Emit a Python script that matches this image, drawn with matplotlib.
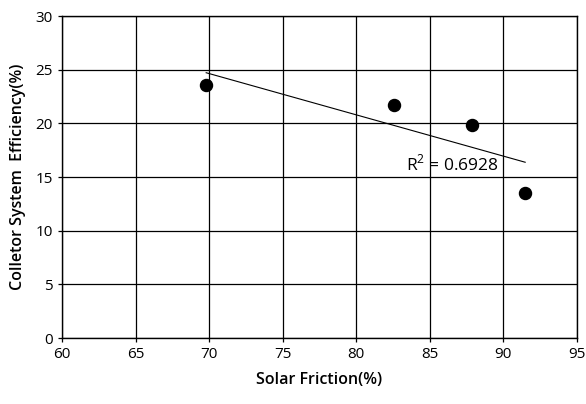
import numpy as np
import matplotlib.pyplot as plt

# data
solar_fraction = [69.8, 82.6, 87.9, 91.5]
efficiency = [23.6, 21.7, 19.9, 13.5]
r2_label = "R$^2$ = 0.6928"

plt.rcParams['font.family'] = ['Open Sans', 'DejaVu Sans']
plt.rcParams['mathtext.fontset'] = 'custom'
plt.rcParams['mathtext.rm'] = 'Open Sans'

fig = plt.figure(figsize=(5.86, 4.04), dpi=100)
ax = fig.add_axes([0.106, 0.163, 0.878, 0.797])

ax.scatter(solar_fraction, efficiency, s=75, color='black', zorder=3)

# linear trendline
coef = np.polyfit(solar_fraction, efficiency, 1)
xs = np.array([min(solar_fraction), max(solar_fraction)])
ax.plot(xs, np.polyval(coef, xs), color='black', linewidth=0.8, zorder=2)
ax.text(83.4, 16.2, r2_label, fontsize=12.5, va='center', ha='left')

ax.set_xlim(60, 95)
ax.set_ylim(0, 30)
ax.set_xticks(np.arange(60, 96, 5))
ax.set_yticks(np.arange(0, 31, 5))
ax.grid(True, color='black', linewidth=0.9)
ax.set_axisbelow(True)
for s in ax.spines.values():
    s.set_linewidth(1.0)
ax.tick_params(direction='out', length=3, width=0.9, labelsize=11)

ax.set_xlabel('Solar Friction(%)', fontsize=11.5, fontweight='semibold', labelpad=7)
ax.set_ylabel('Colletor System  Efficiency(%)', fontsize=11.5, fontweight='semibold', labelpad=7)

plt.savefig('out.png', dpi=100)
